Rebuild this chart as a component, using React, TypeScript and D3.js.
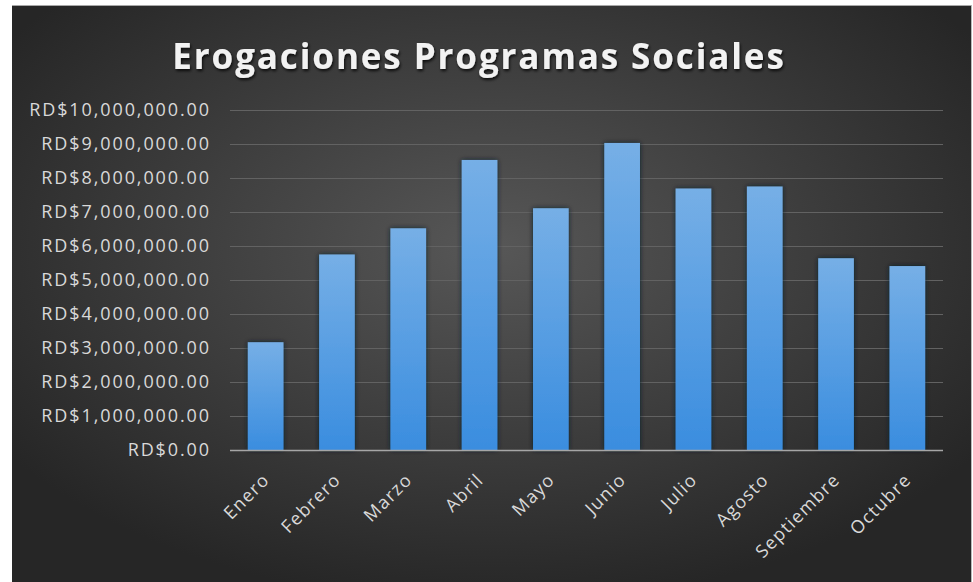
import React, { useEffect, useRef } from 'react';
import * as d3 from 'd3';

const months = ['Enero', 'Febrero', 'Marzo', 'Abril', 'Mayo', 'Junio', 'Julio', 'Agosto', 'Septiembre', 'Octubre'];
const expenses = [3170000, 5750000, 6520000, 8530000, 7110000, 9030000, 7690000, 7750000, 5640000, 5410000];
const yTicks = [0, 1000000, 2000000, 3000000, 4000000, 5000000, 6000000, 7000000, 8000000, 9000000, 10000000];
const chartTitle = 'Erogaciones Programas Sociales';

const W = 973;
const H = 582;
const margin = { top: 110, right: 30, bottom: 132, left: 230 };

const fmt = (v: number) => 'RD$' + d3.format(',.2f')(v);

const App: React.FC = () => {
  const svgRef = useRef<SVGSVGElement>(null);

  useEffect(() => {
    if (!svgRef.current) return;
    const svg = d3.select(svgRef.current);
    svg.selectAll('*').remove();

    const defs = svg.append('defs');
    const bg = defs.append('radialGradient').attr('id', 'bg')
      .attr('cx', '50%').attr('cy', '42%').attr('r', '62%');
    bg.append('stop').attr('offset', '0%').attr('stop-color', '#575757');
    bg.append('stop').attr('offset', '100%').attr('stop-color', '#262626');

    const barGrad = defs.append('linearGradient').attr('id', 'bar')
      .attr('x1', 0).attr('y1', 0).attr('x2', 0).attr('y2', 1);
    barGrad.append('stop').attr('offset', '0%').attr('stop-color', '#76afe6');
    barGrad.append('stop').attr('offset', '100%').attr('stop-color', '#3a8ddf');

    const glow = defs.append('filter').attr('id', 'glow')
      .attr('x', '-30%').attr('y', '-10%').attr('width', '160%').attr('height', '120%');
    glow.append('feDropShadow').attr('dx', 0).attr('dy', 0).attr('stdDeviation', 2.5)
      .attr('flood-color', '#0a1a2a').attr('flood-opacity', 0.9);

    const tshadow = defs.append('filter').attr('id', 'tshadow')
      .attr('x', '-5%').attr('y', '-20%').attr('width', '110%').attr('height', '150%');
    tshadow.append('feDropShadow').attr('dx', 1).attr('dy', 2).attr('stdDeviation', 1.5)
      .attr('flood-color', '#000').attr('flood-opacity', 0.8);

    // page white + chart area
    svg.append('rect').attr('width', W).attr('height', H).attr('fill', '#ffffff');
    svg.append('rect').attr('x', 12).attr('y', 5).attr('width', W - 13).attr('height', H - 5)
      .attr('fill', 'url(#bg)');
    svg.append('line').attr('x1', 12).attr('x2', W - 1).attr('y1', 5.5).attr('y2', 5.5)
      .attr('stroke', '#a8a8a8').attr('stroke-width', 1);
    svg.append('line').attr('x1', W - 1.5).attr('x2', W - 1.5).attr('y1', 5).attr('y2', H)
      .attr('stroke', '#b8b8b8').attr('stroke-width', 1);

    const innerW = W - margin.left - margin.right;
    const innerH = H - margin.top - margin.bottom;

    const x = d3.scaleBand<string>().domain(months).range([0, innerW]).paddingInner(0.5).paddingOuter(0.25);
    const y = d3.scaleLinear().domain([0, 10000000]).range([innerH, 0]);

    const g = svg.append('g').attr('transform', `translate(${margin.left},${margin.top})`);

    // gridlines
    g.selectAll('line.grid')
      .data(yTicks.slice(1))
      .enter()
      .append('line')
      .attr('class', 'grid')
      .attr('x1', 0).attr('x2', innerW)
      .attr('y1', d => Math.round(y(d)) + 0.5).attr('y2', d => Math.round(y(d)) + 0.5)
      .attr('stroke', '#626262').attr('stroke-width', 1);

    // y labels
    g.selectAll('text.ylab')
      .data(yTicks)
      .enter()
      .append('text')
      .attr('class', 'ylab')
      .attr('x', -19)
      .attr('y', d => y(d))
      .attr('dy', '0.36em')
      .attr('text-anchor', 'end')
      .attr('fill', '#d9d9d9')
      .attr('font-family', 'Open Sans, sans-serif')
      .attr('font-size', 18)
      .attr('letter-spacing', 1.9)
      .text(d => fmt(d));

    // bars
    g.selectAll('rect.bar')
      .data(months)
      .enter()
      .append('rect')
      .attr('class', 'bar')
      .attr('x', d => x(d)!)
      .attr('y', (d, i) => y(expenses[i]))
      .attr('width', x.bandwidth())
      .attr('height', (d, i) => innerH - y(expenses[i]))
      .attr('fill', 'url(#bar)')
      .attr('filter', 'url(#glow)');

    // baseline
    g.append('line')
      .attr('x1', 0).attr('x2', innerW)
      .attr('y1', innerH + 0.5).attr('y2', innerH + 0.5)
      .attr('stroke', '#a6a6a6').attr('stroke-width', 1.5);

    // x labels
    g.selectAll('text.xlab')
      .data(months)
      .enter()
      .append('text')
      .attr('class', 'xlab')
      .attr('text-anchor', 'end')
      .attr('transform', d => `translate(${x(d)! + x.bandwidth() / 2 + 5},${innerH + 31}) rotate(-45)`)
      .attr('fill', '#d9d9d9')
      .attr('font-family', 'Open Sans, sans-serif')
      .attr('font-size', 18)
      .attr('letter-spacing', 1.3)
      .text(d => d);

    // title
    svg.append('text')
      .attr('x', 479)
      .attr('y', 69)
      .attr('text-anchor', 'middle')
      .attr('fill', '#f2f2f2')
      .attr('font-family', 'Open Sans, sans-serif')
      .attr('font-weight', 'bold')
      .attr('font-size', 35)
      .attr('letter-spacing', 1.9)
      .attr('filter', 'url(#tshadow)')
      .text(chartTitle);
  }, []);

  return (
    <div style={{ position: 'absolute', left: 0, top: 0 }}>
      <svg ref={svgRef} width={W} height={H} style={{ display: 'block' }} />
    </div>
  );
};

export default App;
